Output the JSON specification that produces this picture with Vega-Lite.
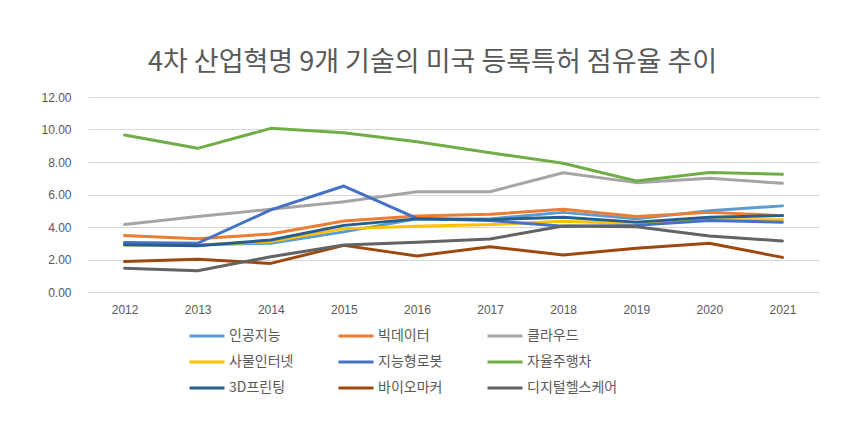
{
  "$schema": "https://vega.github.io/schema/vega-lite/v6.json",
  "autosize": "none",
  "width": 731,
  "height": 195,
  "padding": {"left": 88, "top": 97, "right": 38, "bottom": 143},
  "background": "white",
  "title": {
    "text": "4차 산업혁명 9개 기술의 미국 등록특허 점유율 추이",
    "font": "Noto Sans CJK KR",
    "fontSize": 27,
    "fontWeight": "normal",
    "color": "#595959",
    "anchor": "middle",
    "frame": "group",
    "baseline": "middle",
    "offset": 1,
    "dx": -21
  },
  "data": {
    "values": [
      {"year": "2012", "인공지능": 3.0, "빅데이터": 3.47, "클라우드": 4.16, "사물인터넷": 2.9, "지능형로봇": 3.04, "자율주행차": 9.66, "3D프린팅": 2.9, "바이오마커": 1.87, "디지털헬스케어": 1.46},
      {"year": "2013", "인공지능": 2.9, "빅데이터": 3.28, "클라우드": 4.64, "사물인터넷": 2.9, "지능형로봇": 3.0, "자율주행차": 8.84, "3D프린팅": 2.85, "바이오마커": 2.01, "디지털헬스케어": 1.31},
      {"year": "2014", "인공지능": 3.0, "빅데이터": 3.57, "클라우드": 5.09, "사물인터넷": 3.1, "지능형로봇": 5.05, "자율주행차": 10.07, "3D프린팅": 3.2, "바이오마커": 1.76, "디지털헬스케어": 2.17},
      {"year": "2015", "인공지능": 3.7, "빅데이터": 4.37, "클라우드": 5.55, "사물인터넷": 3.9, "지능형로봇": 6.52, "자율주행차": 9.8, "3D프린팅": 4.1, "바이오마커": 2.87, "디지털헬스케어": 2.89},
      {"year": "2016", "인공지능": 4.5, "빅데이터": 4.68, "클라우드": 6.17, "사물인터넷": 4.05, "지능형로봇": 4.53, "자율주행차": 9.25, "3D프린팅": 4.5, "바이오마커": 2.22, "디지털헬스케어": 3.06},
      {"year": "2017", "인공지능": 4.5, "빅데이터": 4.78, "클라우드": 6.17, "사물인터넷": 4.15, "지능형로봇": 4.4, "자율주행차": 8.57, "3D프린팅": 4.45, "바이오마커": 2.79, "디지털헬스케어": 3.26},
      {"year": "2018", "인공지능": 4.9, "빅데이터": 5.09, "클라우드": 7.34, "사물인터넷": 4.35, "지능형로봇": 4.05, "자율주행차": 7.92, "3D프린팅": 4.6, "바이오마커": 2.28, "디지털헬스케어": 4.06},
      {"year": "2019", "인공지능": 4.5, "빅데이터": 4.64, "클라우드": 6.73, "사물인터넷": 4.2, "지능형로봇": 4.1, "자율주행차": 6.83, "3D프린팅": 4.3, "바이오마커": 2.69, "디지털헬스케어": 4.02},
      {"year": "2020", "인공지능": 5.0, "빅데이터": 4.9, "클라우드": 7.0, "사물인터넷": 4.45, "지능형로봇": 4.4, "자율주행차": 7.36, "3D프린팅": 4.6, "바이오마커": 3.0, "디지털헬스케어": 3.45},
      {"year": "2021", "인공지능": 5.3, "빅데이터": 4.7, "클라우드": 6.69, "사물인터넷": 4.45, "지능형로봇": 4.29, "자율주행차": 7.24, "3D프린팅": 4.7, "바이오마커": 2.13, "디지털헬스케어": 3.14}
    ]
  },
  "transform": [
    {"fold": ["인공지능", "빅데이터", "클라우드", "사물인터넷", "지능형로봇", "자율주행차", "3D프린팅", "바이오마커", "디지털헬스케어"], "as": ["series", "value"]}
  ],
  "mark": {"type": "line", "strokeWidth": 3, "strokeCap": "round", "strokeJoin": "round"},
  "encoding": {
    "x": {
      "field": "year",
      "type": "ordinal",
      "scale": {"type": "point", "padding": 0.5},
      "axis": {
        "title": null,
        "labelAngle": 0,
        "ticks": false,
        "domain": false,
        "grid": false,
        "labelPadding": 12,
        "labelFont": "Liberation Sans",
        "labelFontSize": 12,
        "labelColor": "#595959"
      }
    },
    "y": {
      "field": "value",
      "type": "quantitative",
      "scale": {"domain": [0, 12], "nice": false, "zero": true},
      "axis": {
        "title": null,
        "values": [0, 2, 4, 6, 8, 10, 12],
        "format": ".2f",
        "ticks": false,
        "domain": false,
        "grid": true,
        "gridColor": "#d9d9d9",
        "gridWidth": 1,
        "labelPadding": 17,
        "labelFont": "Liberation Sans",
        "labelFontSize": 12,
        "labelColor": "#595959"
      }
    },
    "color": {
      "field": "series",
      "type": "nominal",
      "sort": null,
      "scale": {
        "domain": ["인공지능", "빅데이터", "클라우드", "사물인터넷", "지능형로봇", "자율주행차", "3D프린팅", "바이오마커", "디지털헬스케어"],
        "range": ["#5B9BD5", "#ED7D31", "#A5A5A5", "#FFC000", "#4472C4", "#70AD47", "#255E91", "#9E480E", "#636363"]
      },
      "legend": {
        "title": null,
        "orient": "none",
        "legendX": 100,
        "legendY": 220,
        "direction": "horizontal",
        "columns": 3,
        "gridAlign": "all",
        "columnPadding": 12,
        "rowPadding": 0,
        "symbolType": "M-1,0H1",
        "symbolSize": 1225,
        "symbolStrokeWidth": 3,
        "labelOffset": 3,
        "labelFont": "Noto Sans CJK KR",
        "labelFontSize": 14,
        "labelColor": "#595959"
      }
    }
  },
  "config": {
    "view": {"stroke": null}
  }
}
